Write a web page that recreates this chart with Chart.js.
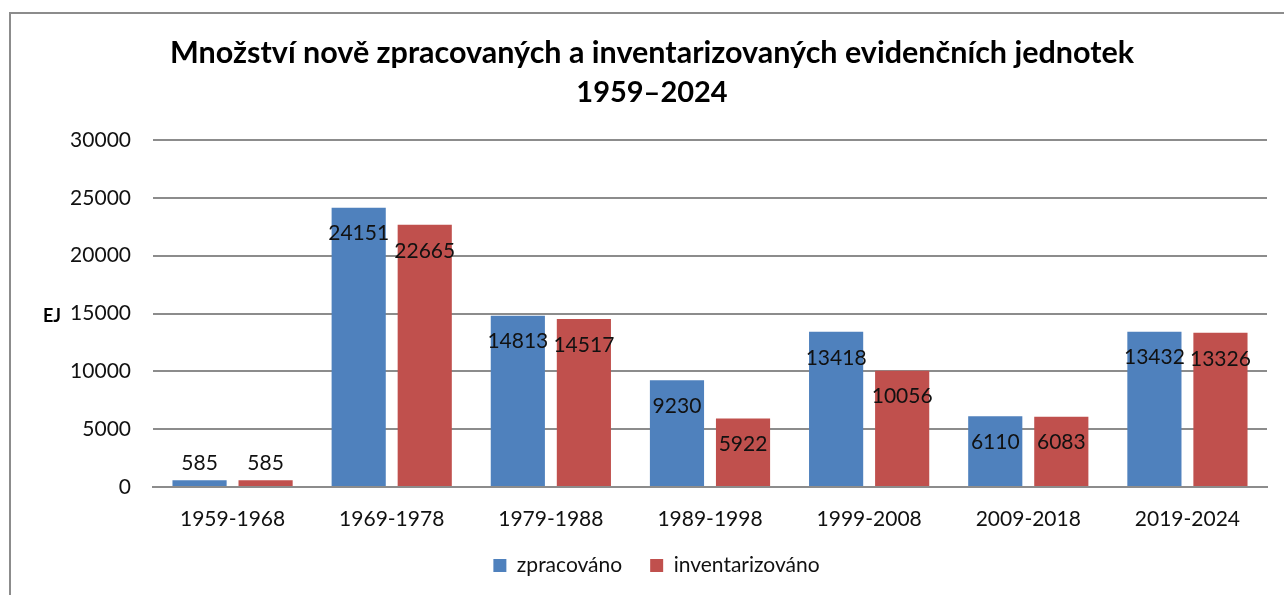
<!DOCTYPE html>
<html>
<head>
<meta charset="utf-8">
<script src="https://cdn.jsdelivr.net/npm/chart.js@4/dist/chart.umd.min.js"></script>
<style>
html,body{margin:0;padding:0;background:#fff;}
#wrap{width:1284px;height:595px;position:relative;}
</style>
</head>
<body>
<div id="wrap"><canvas id="c" width="1284" height="595"></canvas></div>
<script>
const periods=['1959-1968','1969-1978','1979-1988','1989-1998','1999-2008','2009-2018','2019-2024'];
const zpracovano=[585,24151,14813,9230,13418,6110,13432];
const inventarizovano=[585,22665,14517,5922,10056,6083,13326];
const titleLines=['Množství nově zpracovaných a inventarizovaných evidenčních jednotek','1959–2024'];
const FONT='Lato';

/* rámeček + nadpis + EJ */
const frame={
  id:'frame',
  beforeDraw(c){
    const g=c.ctx;
    g.save();
    g.fillStyle='#fff';g.fillRect(0,0,c.width,c.height);
    g.strokeStyle='#8c8c8c';g.lineWidth=2;
    g.strokeRect(10,13,c.width+20,c.height+20);
    g.restore();
  },
  afterDraw(c){
    const g=c.ctx;
    g.save();
    g.fillStyle='#000';g.textAlign='center';g.textBaseline='middle';
    g.font=`bold 30.5px ${FONT}`;
    g.fillText(titleLines[0],652,53);
    g.font=`bold 29px ${FONT}`;
    g.fillText(titleLines[1],652,93);
    g.font=`bold 18px ${FONT}`;
    g.fillText('EJ',52,316);
    g.restore();
  }
};

/* popisky hodnot */
const valueLabels={
  id:'valueLabels',
  afterDatasetsDraw(c){
    const g=c.ctx;
    g.save();
    g.font=`21px ${FONT}`;g.fillStyle='#111';g.textAlign='center';g.textBaseline='middle';
    c.data.datasets.forEach((ds,i)=>{
      c.getDatasetMeta(i).data.forEach((el,j)=>{
        const h=el.base-el.y;
        const y=h>40?el.y+26:el.y-17;
        g.fillText(ds.data[j],el.x,y);
      });
    });
    g.restore();
  }
};

new Chart(document.getElementById('c'),{
  type:'bar',
  data:{labels:periods,datasets:[
    {label:'zpracováno',data:zpracovano,backgroundColor:'#4F81BD'},
    {label:'inventarizováno',data:inventarizovano,backgroundColor:'#C0504D'}
  ]},
  options:{
    responsive:false,animation:false,
    layout:{padding:{left:46,top:140,right:17,bottom:9}},
    datasets:{bar:{barPercentage:0.82,categoryPercentage:0.83}},
    plugins:{
      legend:{position:'bottom',labels:{font:{family:FONT,size:21},color:'#111',boxWidth:13,boxHeight:13,padding:28}},
      tooltip:{enabled:false},
      title:{display:false}
    },
    scales:{
      x:{
        grid:{display:false},
        border:{color:'#8c8c8c',width:2},
        ticks:{font:{family:FONT,size:21},color:'#111',padding:12},
        afterFit(s){s.height=40;}
      },
      y:{
        min:0,max:30000,
        ticks:{stepSize:5000,font:{family:FONT,size:21},color:'#111',padding:22,callback:v=>String(v)},
        grid:{color:'#8c8c8c',lineWidth:2,drawTicks:false},
        border:{display:false},
        afterFit(s){s.width=107;}
      }
    }
  },
  plugins:[frame,valueLabels]
});
</script>
</body>
</html>
